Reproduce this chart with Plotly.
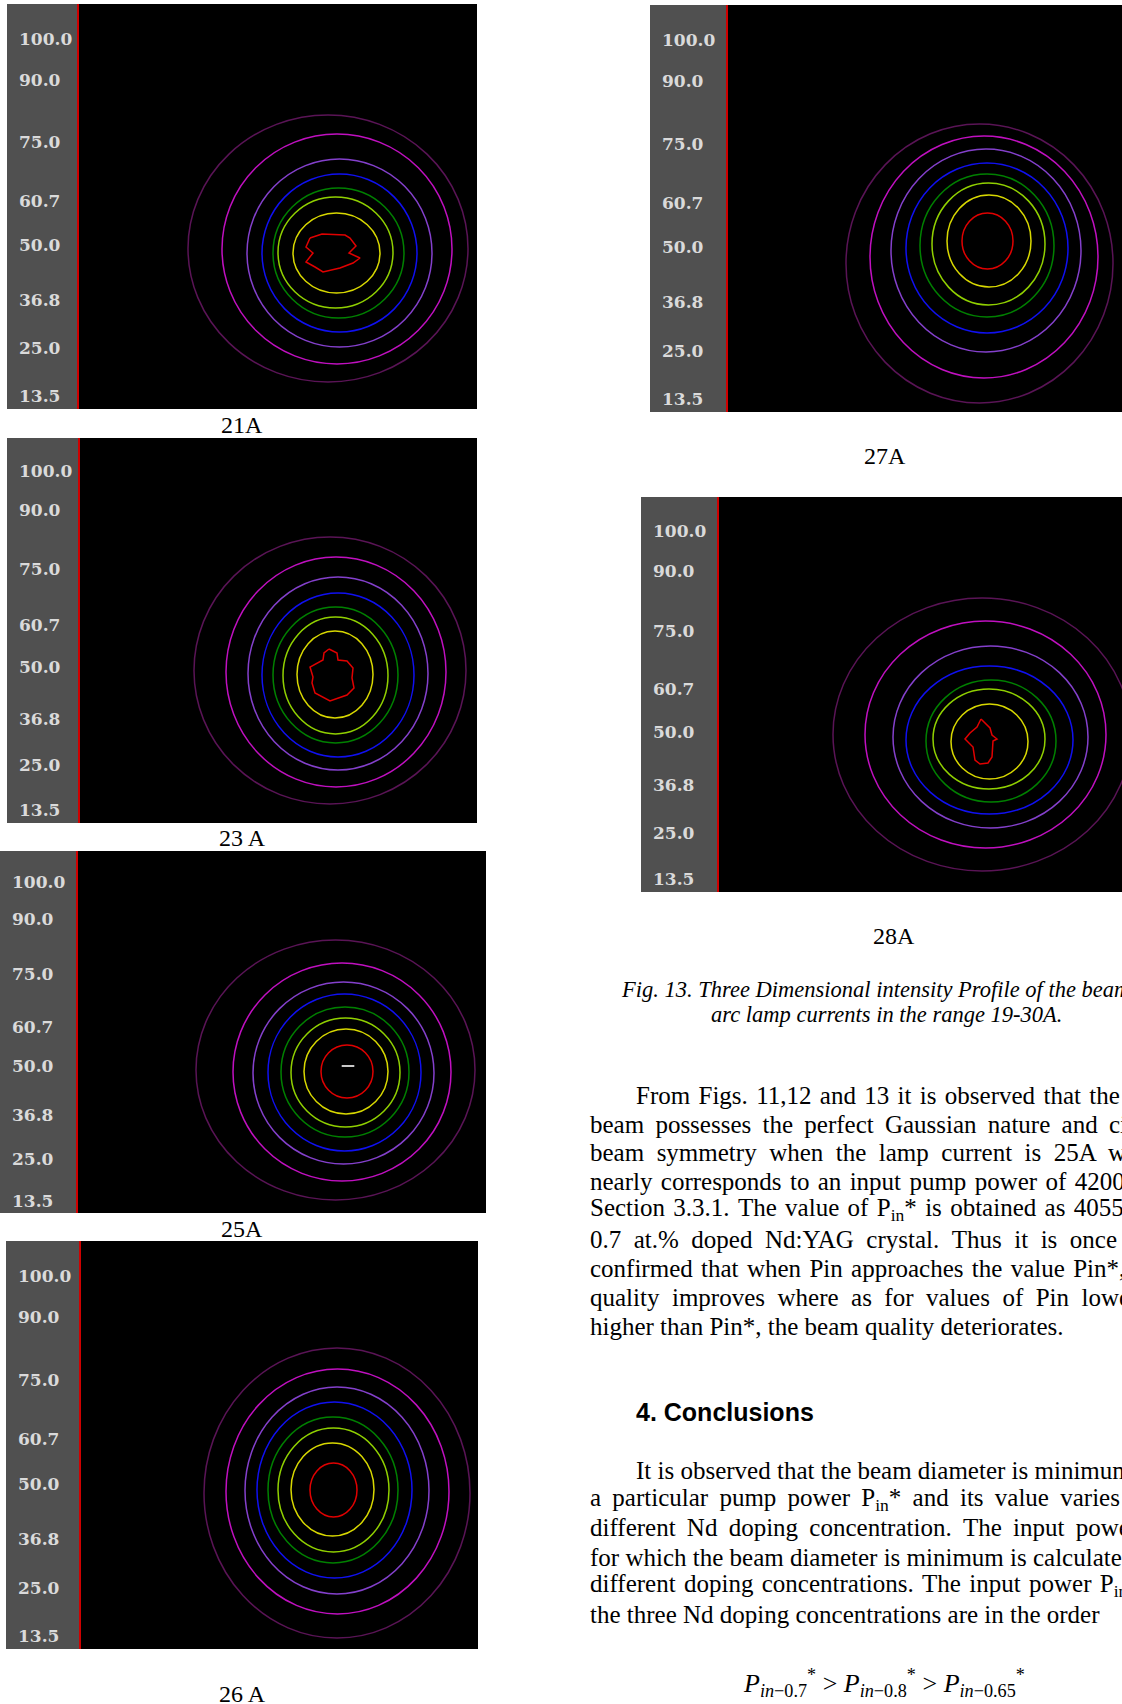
import plotly.graph_objects as go

W, H = 1122, 1704

# ---------------- data ----------------
# colour-scale levels printed on the grey bar (percent of peak intensity)
level_values = [100.0, 90.0, 75.0, 60.7, 50.0, 36.8, 25.0, 13.5]
level_labels = ["100.0", "90.0", "75.0", "60.7", "50.0", "36.8", "25.0", "13.5"]

# iso-intensity contour colours, outermost -> innermost
contour_colors = ["#5a1456", "#c010c0", "#8440cc", "#1010f0",
                  "#008000", "#90d000", "#d8d800", "#e00000"]

# contour extents (image pixels), outermost -> innermost
p21_left   = [109, 143, 168, 183, 194, 199, 214, 226]
p21_right  = [389, 373, 353, 338, 325, 314, 301, 282]
p21_top    = [111, 130, 155, 170, 184, 193, 209, 230]
p21_bottom = [378, 360, 343, 328, 314, 304, 289, 268]
# innermost (red) contour traced point by point
p21_red_x = [231, 243, 266, 271, 277, 270, 281, 274, 261, 244, 236, 227, 234, 227, 231]
p21_red_y = [234, 230, 231, 234, 242, 249, 254, 259, 264, 268, 263, 258, 249, 243, 234]

p23_left   = [114, 146, 168, 182, 193, 203, 217, 230]
p23_right  = [386, 366, 348, 334, 318, 308, 293, 275]
p23_top    = [99, 119, 139, 155, 169, 179, 193, 211]
p23_bottom = [366, 349, 332, 319, 305, 296, 280, 263]
p23_red_x = [249, 257, 258, 267, 273, 272, 274, 267, 250, 235, 232, 233, 230, 243, 244, 249]
p23_red_y = [211, 215, 222, 223, 230, 240, 250, 257, 263, 255, 245, 239, 229, 222, 215, 211]

p25_left   = [118, 155, 175, 190, 203, 213, 226, 243]
p25_right  = [397, 373, 356, 343, 331, 322, 310, 295]
p25_top    = [89, 112, 131, 143, 156, 167, 178, 194]
p25_bottom = [349, 330, 313, 300, 286, 276, 263, 247]
p25_peak_x = [270]
p25_peak_y = [215]

p26_left   = [123, 145, 164, 176, 187, 197, 210, 229]
p26_right  = [389, 368, 348, 331, 317, 308, 293, 276]
p26_top    = [107, 128, 146, 161, 176, 187, 202, 222]
p26_bottom = [397, 373, 353, 337, 322, 311, 295, 276]

p27_left   = [118, 142, 163, 178, 192, 204, 219, 234]
p27_right  = [385, 370, 353, 340, 326, 317, 303, 285]
p27_top    = [119, 131, 144, 158, 169, 178, 190, 208]
p27_bottom = [398, 373, 347, 328, 312, 300, 282, 264]

p28_left   = [114, 146, 174, 187, 207, 214, 232, 245]
p28_right  = [412, 387, 369, 354, 337, 326, 309, 278]
p28_top    = [101, 124, 149, 169, 183, 192, 207, 222]
p28_bottom = [374, 351, 331, 317, 305, 292, 282, 267]
p28_red_x = [262, 266, 271, 273, 278, 274, 273, 269, 261, 256, 254, 246, 251, 258, 262]
p28_red_y = [222, 226, 231, 238, 242, 244, 260, 266, 267, 263, 250, 242, 236, 230, 222]

# colour bar strip drawn beside panel 27A
strip_levels = [108.3, 100.0, 90.0, 82.0, 75.0, 60.7, 50.0, 42.0, 36.8, 25.0, 13.5, 10.3]
strip_colors = ["#ffffff", "#f0a0a0", "#e00000", "#f08000", "#e8e800", "#40c000",
                "#006a30", "#003080", "#1010f0", "#9040d0", "#c010c0"]

# ---------------- layout geometry (page pixels) ----------------
panels = [
    dict(cap="21A",  gx0=7,   gx1=79,  gx2=477,  y0=4,    y1=409,  cx=242, cy=425,
         L=p21_left, R=p21_right, T=p21_top, B=p21_bottom, red=(p21_red_x, p21_red_y)),
    dict(cap="23 A", gx0=7,   gx1=80,  gx2=477,  y0=438,  y1=823,  cx=242, cy=838,
         L=p23_left, R=p23_right, T=p23_top, B=p23_bottom, red=(p23_red_x, p23_red_y)),
    dict(cap="25A",  gx0=0,   gx1=78,  gx2=486,  y0=851,  y1=1213, cx=242, cy=1229,
         L=p25_left, R=p25_right, T=p25_top, B=p25_bottom, red=None),
    dict(cap="26 A", gx0=6,   gx1=81,  gx2=478,  y0=1241, y1=1649, cx=242, cy=1694,
         L=p26_left, R=p26_right, T=p26_top, B=p26_bottom, red=None),
    dict(cap="27A",  gx0=650, gx1=728, gx2=1122, y0=5,    y1=412,  cx=885, cy=456,
         L=p27_left, R=p27_right, T=p27_top, B=p27_bottom, red=None),
    dict(cap="28A",  gx0=641, gx1=719, gx2=1122, y0=497,  y1=892,  cx=894, cy=936,
         L=p28_left, R=p28_right, T=p28_top, B=p28_bottom, red=(p28_red_x, p28_red_y)),
]

fig = go.Figure()
shapes = []
annotations = []


def px(x):
    return x / W


def py(y):
    return 1 - y / H


def ax(n, kind):
    return kind if n == 1 else f"{kind}{n}"


layout_axes = {}
for i, p in enumerate(panels):
    nc = 2 * i + 1   # contour subplot
    ng = 2 * i + 2   # grey label bar subplot
    ydom = [py(p["y1"]), py(p["y0"])]
    wimg = p["gx2"] - p["gx1"]
    himg = p["y1"] - p["y0"]

    # contour subplot axes
    layout_axes["xaxis" if nc == 1 else f"xaxis{nc}"] = dict(
        domain=[px(p["gx1"]), min(1.0, px(p["gx2"]))], range=[0, wimg],
        anchor=ax(nc, "y"), visible=False, fixedrange=True)
    layout_axes["yaxis" if nc == 1 else f"yaxis{nc}"] = dict(
        domain=ydom, range=[himg, 0], anchor=ax(nc, "x"),
        showline=True, linecolor="#d00000", linewidth=1.6, mirror=False,
        showgrid=False, zeroline=False, showticklabels=False, ticks="",
        fixedrange=True)

    # grey bar axes with level labels
    layout_axes[f"xaxis{ng}"] = dict(
        domain=[px(p["gx0"]), px(p["gx1"])], range=[0, p["gx1"] - p["gx0"]],
        anchor=f"y{ng}", visible=False, fixedrange=True)
    layout_axes[f"yaxis{ng}"] = dict(
        domain=ydom, range=[10.3, 108.4], anchor=f"x{ng}",
        tickmode="array", tickvals=level_values, ticktext=level_labels,
        ticklabelposition="inside", ticks="", ticklabelstandoff=9,
        tickfont=dict(family="DejaVu Serif", size=17, color="#dadada", weight="bold"),
        showline=False, showgrid=False, zeroline=False, fixedrange=True)

    # grey background of the label bar
    shapes.append(dict(type="rect", xref=f"x{ng} domain", yref=f"y{ng} domain",
                       x0=0, x1=1, y0=0, y1=1, fillcolor="#505050",
                       line=dict(width=0), layer="below"))

    # invisible anchor trace so the label axis is drawn
    fig.add_trace(go.Scatter(x=[0] * len(level_values), y=level_values, mode="markers",
                             marker=dict(opacity=0), xaxis=f"x{ng}", yaxis=f"y{ng}",
                             hoverinfo="skip", showlegend=False))

    # iso-intensity contours
    for k in range(len(contour_colors)):
        if k == len(contour_colors) - 1 and p["red"] is not None:
            fig.add_trace(go.Scatter(x=p["red"][0], y=p["red"][1], mode="lines",
                                     line=dict(color=contour_colors[k], width=1.5),
                                     xaxis=ax(nc, "x"), yaxis=ax(nc, "y"),
                                     hoverinfo="skip", showlegend=False))
            continue
        shapes.append(dict(type="circle", xref=ax(nc, "x"), yref=ax(nc, "y"),
                           x0=p["L"][k], x1=p["R"][k], y0=p["T"][k], y1=p["B"][k],
                           line=dict(color=contour_colors[k], width=1.5), layer="above"))

    # caption under the panel
    annotations.append(dict(text=p["cap"], x=px(p["cx"]), y=py(p["cy"]), xref="paper", yref="paper",
                            xanchor="center", yanchor="middle", showarrow=False,
                            font=dict(family="Liberation Serif", size=24, color="#000000")))

# centre marker of panel 25A
fig.add_trace(go.Scatter(x=p25_peak_x, y=p25_peak_y, mode="markers",
                         marker=dict(symbol="line-ew", size=9, line=dict(color="#c8c8c8", width=2)),
                         xaxis="x5", yaxis="y5", hoverinfo="skip", showlegend=False))

# colour strip of panel 27A (grey bar subplot 10)
for k in range(len(strip_colors)):
    fig.add_trace(go.Scatter(x=[-1, -1], y=[strip_levels[k], strip_levels[k + 1]], mode="lines",
                             line=dict(color=strip_colors[k], width=2), xaxis="x10", yaxis="y10",
                             cliponaxis=False, hoverinfo="skip", showlegend=False))

# ---------------- page text ----------------
body_font = dict(family="Liberation Serif", size=25, color="#000000")
ital_font = dict(family="Liberation Serif", size=22.5, color="#000000")

HAIR, THIN, NB = "\u200a", "\u2009", "\u00a0"


def text(t, x, y, font, anchor="left"):
    annotations.append(dict(text=t, x=px(x), y=py(y), xref="paper", yref="paper",
                            xanchor=anchor, yanchor="middle", showarrow=False, font=font))


def justify(t, pad):
    return t.replace(" ", " " + pad) if pad else t


text("<i>Fig. 13. Three Dimensional intensity Profile of the beam</i>", 619, 989, ital_font)
text("<i>arc lamp currents in the range 19-30A.</i>", 709, 1015, ital_font)

para1 = [
    ("From Figs. 11,12 and 13 it is observed that the", 634, 1095, HAIR),
    ("beam possesses the perfect Gaussian nature and circular", 588, 1124, THIN),
    ("beam symmetry when the lamp current is 25A which", 588, 1152, NB),
    ("nearly corresponds to an input pump power of 4200", 588, 1181, HAIR),
    ("Section 3.3.1. The value of P<sub>in</sub>* is obtained as 4055", 588, 1209, HAIR),
    ("0.7 at.% doped Nd:YAG crystal. Thus it is once", 588, 1239, NB),
    ("confirmed that when Pin approaches the value Pin*,", 588, 1268, HAIR),
    ("quality improves where as for values of Pin lower", 588, 1297, NB),
    ("higher than Pin*, the beam quality deteriorates.", 588, 1326, ""),
]
for t, x, y, pad in para1:
    text(justify(t, pad), x, y, body_font)

text("<b>4. Conclusions</b>", 634, 1412, dict(family="Liberation Sans", size=25, color="#000000"))

para2 = [
    ("It is observed that the beam diameter is minimum", 634, 1470, ""),
    ("a particular pump power P<sub>in</sub>* and its value varies", 588, 1499, THIN),
    ("different Nd doping concentration. The input power", 588, 1527, THIN),
    ("for which the beam diameter is minimum is calculated", 588, 1557, ""),
    ("different doping concentrations. The input power P<sub>in</sub>", 588, 1585, HAIR),
    ("the three Nd doping concentrations are in the order", 588, 1614, ""),
]
for t, x, y, pad in para2:
    text(justify(t, pad), x, y, body_font)

formula = ("<i>P</i><sub><i>in</i>\u22120.7</sub><sup>*</sup> &gt; "
           "<i>P</i><sub><i>in</i>\u22120.8</sub><sup>*</sup> &gt; "
           "<i>P</i><sub><i>in</i>\u22120.65</sub><sup>*</sup>")
text(formula, 741, 1683, dict(family="Liberation Serif", size=26, color="#000000"))

fig.update_layout(
    width=W, height=H, margin=dict(l=0, r=0, t=0, b=0),
    paper_bgcolor="#ffffff", plot_bgcolor="#000000",
    showlegend=False, shapes=shapes, annotations=annotations,
    **layout_axes,
)

fig.write_html("out.html")
